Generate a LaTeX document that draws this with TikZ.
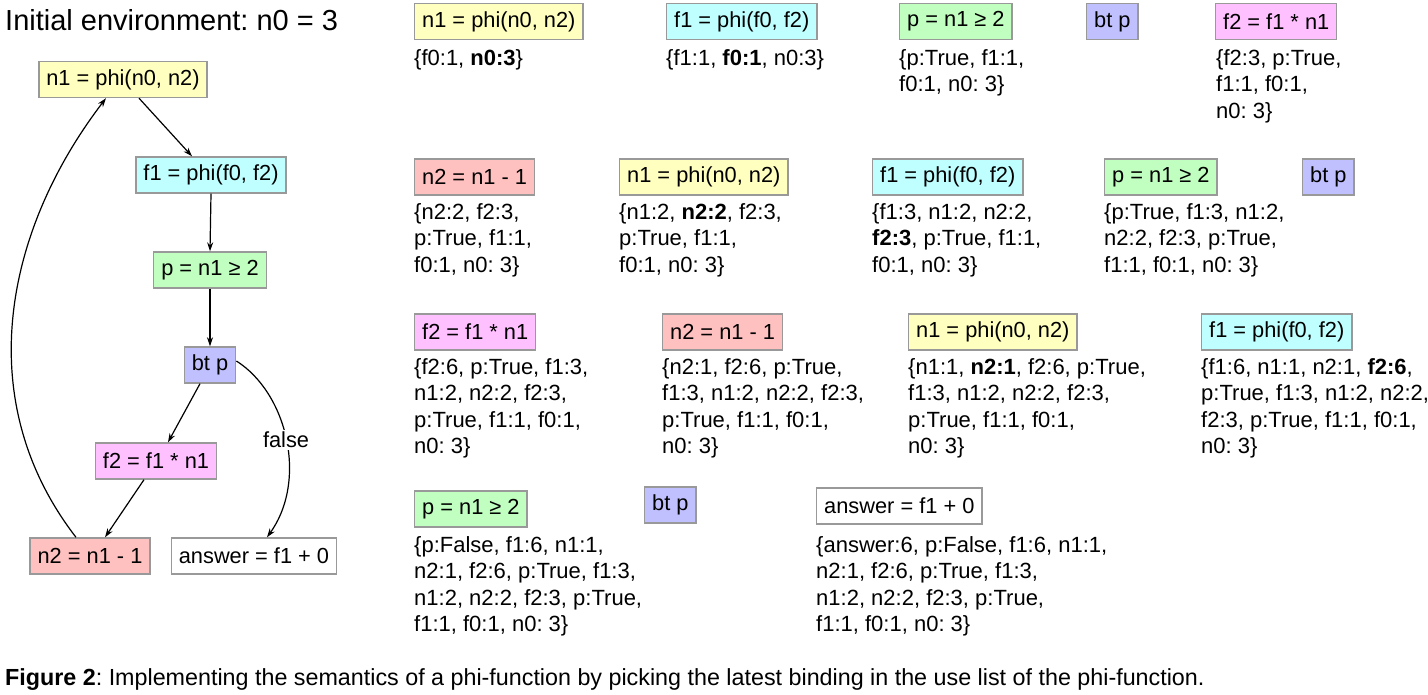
\documentclass[tikz,border=0pt]{standalone}
\usepackage{fontspec}
\setmainfont{Liberation Sans}
\usetikzlibrary{arrows.meta}
\definecolor{boxgray}{HTML}{999999}
\definecolor{cyel}{HTML}{FFFFC0}
\definecolor{ccya}{HTML}{C0FFFF}
\definecolor{cgrn}{HTML}{C0FFC0}
\definecolor{cblu}{HTML}{C0C0FF}
\definecolor{cmag}{HTML}{FFC0FF}
\definecolor{cred}{HTML}{FFC0C0}
\newcommand\nodefont{\fontsize{21.8}{25}\selectfont}
\newcommand\envfont{\fontsize{22}{26.6}\selectfont}
\tikzset{
  box/.style={draw=boxgray, line width=1.4pt, minimum height=36pt, inner xsep=7.5pt, inner ysep=0pt, font=\nodefont, anchor=west},
  cbox/.style={box, anchor=center},
  env/.style={anchor=north west, inner sep=0pt, align=left, font=\envfont},
  arr/.style={-{Stealth[length=9pt,width=6pt]}, line width=1.2pt},
}
\frenchspacing
\begin{document}
\frenchspacing
\begin{tikzpicture}[x=1pt,y=-1pt]
\useasboundingbox (0,0) rectangle (1428,695);
% title
\node[anchor=west, inner sep=0pt, font=\fontsize{29}{33}\selectfont] (title) at (5,20) {Initial environment: n0 = 3};
% left graph
\node[cbox, fill=cyel] (g1) at (123,79.5) {n1 = phi(n0, n2)};
\node[cbox, fill=ccya] (g2) at (211,175) {f1 = phi(f0, f2)};
\node[cbox, fill=cgrn] (g3) at (210,270) {p = n1 ≥ 2};
\node[cbox, fill=cblu] (g4) at (210,365) {bt p};
\node[cbox, fill=cmag] (g5) at (156,461) {f2 = f1 * n1};
\node[cbox, fill=cred] (g6) at (90,556) {n2 = n1 - 1};
\node[cbox, fill=white] (g7) at (254,556) {answer = f1 + 0};
\draw[arr] ([xshift=16pt]g1.south) -- ([xshift=-19pt]g2.north);
\draw[arr] (g2.south) -- (g3.north);
\draw[arr] (g3.south) -- (g4.north);
\draw[arr] ([xshift=-10pt]g4.south) -- ([xshift=12pt]g5.north);
\draw[arr] ([xshift=-12pt]g5.south) -- ([xshift=15pt]g6.north);
\draw[arr] ([yshift=4pt]g4.east) .. controls (287,393) and (308,480) .. node[fill=white, inner sep=2pt, font=\nodefont, pos=0.5] (lf) {false} ([xshift=13pt]g7.north);
\draw[arr] ([xshift=-14pt]g6.north) .. controls (-30,400) and (5,230) .. ([xshift=-17pt]g1.south);
% row 1
\node[box, fill=cyel] (a1) at (414,21.5) {n1 = phi(n0, n2)};
\node[env] (e1) at (414,49) {\{f0:1, \textbf{n0:3}\}};
\node[box, fill=ccya] (a2) at (666,21.5) {f1 = phi(f0, f2)};
\node[env] (e2) at (666,49) {\{f1:1, \textbf{f0:1}, n0:3\}};
\node[box, fill=cgrn] (a3) at (899,21.5) {p = n1 ≥ 2};
\node[env] (e3) at (899,49) {\{p:True, f1:1,\\ f0:1, n0: 3\}};
\node[box, fill=cblu] (a4) at (1086,21.5) {bt p};
\node[box, fill=cmag] (a5) at (1215,21.5) {f2 = f1 * n1};
\node[env] (e5) at (1216,49) {\{f2:3, p:True,\\ f1:1, f0:1,\\ n0: 3\}};
% row 2
\node[box, fill=cred] (b1) at (414,177) {n2 = n1 - 1};
\node[env] (f1) at (414,203) {\{n2:2, f2:3,\\ p:True, f1:1,\\ f0:1, n0: 3\}};
\node[box, fill=cyel] (b2) at (619,177) {n1 = phi(n0, n2)};
\node[env] (f2) at (619,203) {\{n1:2, \textbf{n2:2}, f2:3,\\ p:True, f1:1,\\ f0:1, n0: 3\}};
\node[box, fill=ccya] (b3) at (872,177) {f1 = phi(f0, f2)};
\node[env] (f3) at (872,203) {\{f1:3, n1:2, n2:2,\\ \textbf{f2:3}, p:True, f1:1,\\ f0:1, n0: 3\}};
\node[box, fill=cgrn] (b4) at (1104,177) {p = n1 ≥ 2};
\node[env] (f4) at (1104,203) {\{p:True, f1:3, n1:2,\\ n2:2, f2:3, p:True,\\ f1:1, f0:1, n0: 3\}};
\node[box, fill=cblu] (b5) at (1302,177) {bt p};
% row 3
\node[box, fill=cmag] (c1) at (414,332) {f2 = f1 * n1};
\node[env] (h1) at (414,358) {\{f2:6, p:True, f1:3,\\ n1:2, n2:2, f2:3,\\ p:True, f1:1, f0:1,\\ n0: 3\}};
\node[box, fill=cred] (c2) at (662,332) {n2 = n1 - 1};
\node[env] (h2) at (662,358) {\{n2:1, f2:6, p:True,\\ f1:3, n1:2, n2:2, f2:3,\\ p:True, f1:1, f0:1,\\ n0: 3\}};
\node[box, fill=cyel] (c3) at (908,332) {n1 = phi(n0, n2)};
\node[env] (h3) at (908,358) {\{n1:1, \textbf{n2:1}, f2:6, p:True,\\ f1:3, n1:2, n2:2, f2:3,\\ p:True, f1:1, f0:1,\\ n0: 3\}};
\node[box, fill=ccya] (c4) at (1201,332) {f1 = phi(f0, f2)};
\node[env] (h4) at (1201,358) {\{f1:6, n1:1, n2:1, \textbf{f2:6},\\ p:True, f1:3, n1:2, n2:2,\\ f2:3, p:True, f1:1, f0:1,\\ n0: 3\}};
% row 4
\node[box, fill=cgrn] (d1) at (414,509) {p = n1 ≥ 2};
\node[env] (k1) at (414,536) {\{p:False, f1:6, n1:1,\\ n2:1, f2:6, p:True, f1:3,\\ n1:2, n2:2, f2:3, p:True,\\ f1:1, f0:1, n0: 3\}};
\node[box, fill=cblu] (d2) at (644,505) {bt p};
\node[box, fill=white] (d3) at (816,506) {answer = f1 + 0};
\node[env] (k3) at (816,536) {\{answer:6, p:False, f1:6, n1:1,\\ n2:1, f2:6, p:True, f1:3,\\ n1:2, n2:2, f2:3, p:True,\\ f1:1, f0:1, n0: 3\}};
% caption
\node[anchor=west, inner sep=0pt, font=\fontsize{23.3}{27}\selectfont] (cap) at (5,680) {\textbf{Figure 2}: Implementing the semantics of a phi-function by picking the latest binding in the use list of the phi-function.};
\end{tikzpicture}
\end{document}
